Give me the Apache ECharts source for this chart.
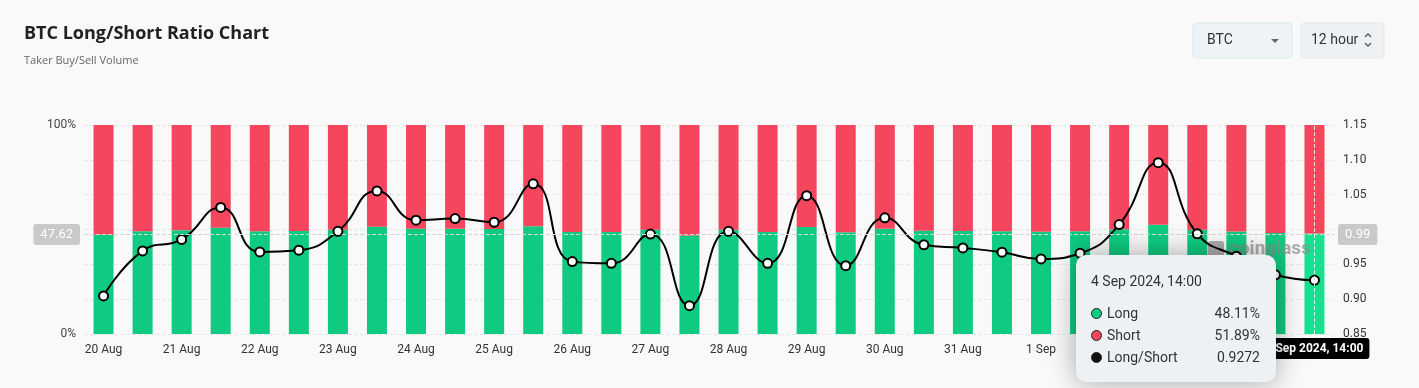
<!DOCTYPE html>
<html>
<head>
<meta charset="utf-8">
<script src="https://cdn.jsdelivr.net/npm/echarts@6/dist/echarts.min.js"></script>
<style>
html,body{margin:0;padding:0;background:#f9f9f9;}
#c{width:1419px;height:388px;}
</style>
</head>
<body>
<div id="c"></div>
<script>
const categories = [
 '20 Aug 2024, 02:00','20 Aug 2024, 14:00','21 Aug 2024, 02:00','21 Aug 2024, 14:00',
 '22 Aug 2024, 02:00','22 Aug 2024, 14:00','23 Aug 2024, 02:00','23 Aug 2024, 14:00',
 '24 Aug 2024, 02:00','24 Aug 2024, 14:00','25 Aug 2024, 02:00','25 Aug 2024, 14:00',
 '26 Aug 2024, 02:00','26 Aug 2024, 14:00','27 Aug 2024, 02:00','27 Aug 2024, 14:00',
 '28 Aug 2024, 02:00','28 Aug 2024, 14:00','29 Aug 2024, 02:00','29 Aug 2024, 14:00',
 '30 Aug 2024, 02:00','30 Aug 2024, 14:00','31 Aug 2024, 02:00','31 Aug 2024, 14:00',
 '1 Sep 2024, 02:00','1 Sep 2024, 14:00','2 Sep 2024, 02:00','2 Sep 2024, 14:00',
 '3 Sep 2024, 02:00','3 Sep 2024, 14:00','4 Sep 2024, 02:00','4 Sep 2024, 14:00'
];
const longPct = [47.49,49.22,49.64,50.78,49.18,49.25,49.93,51.35,50.33,50.39,50.26,51.59,
 48.82,48.75,49.84,47.11,49.93,48.75,51.19,48.67,50.41,49.44,49.33,49.17,48.92,49.14,50.17,52.29,49.85,49.02,48.32,48.11];
const shortPct = [52.51,50.78,50.36,49.22,50.82,50.75,50.07,48.65,49.67,49.61,49.74,48.41,
 51.18,51.25,50.16,52.89,50.07,51.25,48.81,51.33,49.59,50.56,50.67,50.83,51.08,50.86,49.83,47.71,50.15,50.98,51.68,51.89];
const ratio = [0.9046,0.9693,0.9858,1.0316,0.9678,0.9703,0.9974,1.0554,1.0133,1.0157,1.0104,1.0655,
 0.9539,0.9514,0.9935,0.8906,0.9974,0.9514,1.0486,0.9481,1.0167,0.9780,0.9736,0.9674,0.9577,0.9660,1.0070,1.0959,0.9939,0.9616,0.9350,0.9272];
const leftTicks = [0, 100];
const rightTicks = [0.85, 1.15, 0.05];
const hoverIndex = 31;
const hoverPct = 47.62;

const GREEN = '#0ecb81', RED = '#f6465d';
const FONT = 'Roboto, "Noto Sans", sans-serif';

const chart = echarts.init(document.getElementById('c'));
const dot = c => `<span style="display:inline-block;width:9px;height:9px;border-radius:50%;background:${c};border:1.5px solid #222;margin-right:5px;vertical-align:-1px"></span>`;

chart.setOption({
  animation: false,
  backgroundColor: '#f9f9f9',
  textStyle: {fontFamily: FONT},
  title: {
    text: 'BTC Long/Short Ratio Chart',
    subtext: 'Taker Buy/Sell Volume',
    left: 19, top: 20,
    itemGap: 12,
    textStyle: {fontFamily: '"Open Sans", sans-serif', fontSize: 18, fontWeight: 'bold', color: '#222'},
    subtextStyle: {fontFamily: '"Open Sans", sans-serif', fontSize: 11, color: '#666'}
  },
  graphic: [
    {type:'rect', shape:{x:1193,y:23,width:99,height:35,r:4}, style:{fill:'#eef3f6', stroke:'#d9e8ec', lineWidth:1}},
    {type:'text', x:1207, y:40, style:{text:'BTC', fontSize:14, fill:'#333', fontFamily:FONT, verticalAlign:'middle'}},
    {type:'polygon', shape:{points:[[1271,39],[1279,39],[1275,43]]}, style:{fill:'#666'}},
    {type:'rect', shape:{x:1301,y:23,width:83,height:35,r:4}, style:{fill:'#eef1f4', stroke:'#e2e6ea', lineWidth:1}},
    {type:'text', x:1311, y:40, style:{text:'12 hour', fontSize:14, fill:'#333', fontFamily:FONT, verticalAlign:'middle'}},
    {type:'polyline', shape:{points:[[1365,37],[1368,34],[1371,37]]}, style:{stroke:'#555', lineWidth:1.3, fill:null}},
    {type:'polyline', shape:{points:[[1365,43],[1368,46],[1371,43]]}, style:{stroke:'#555', lineWidth:1.3, fill:null}},
    {type:'rect', z:5, shape:{x:1208,y:241,width:16,height:16,r:3}, style:{fill:'rgba(130,130,130,0.65)'}},
    {type:'text', z:5, x:1229, y:249, style:{text:'coinglass', fontSize:19, fontWeight:'bold', fill:'rgba(140,140,140,0.7)', fontFamily:FONT, verticalAlign:'middle'}}
  ],
  grid: {left: 84, right: 85, top: 125, bottom: 54},
  tooltip: {
    trigger: 'axis',
    triggerOn: 'none',
    alwaysShowContent: true,
    backgroundColor: '#eef1f4',
    borderWidth: 0,
    padding: [16, 16, 14, 15],
    extraCssText: 'box-shadow:0 0 28px rgba(0,0,0,0.35);border-radius:10px;width:169px;',
    position: function (point) { return [point[0] - 238, point[1] + 21]; },
    axisPointer: {
      type: 'cross',
      lineStyle: {color: '#d6d6d6', type: 'dashed', width: 1},
      crossStyle: {color: '#d6d6d6', type: 'dashed', width: 1},
      label: {backgroundColor: '#c9c9c9', color: '#fff', fontSize: 13, fontFamily: FONT}
    },
    formatter: function (params) {
      const i = params[0].dataIndex;
      const row = (c, n, v) => `<div style="display:flex;justify-content:space-between;line-height:22px;font-size:14px;color:#333">${'<span>' + dot(c) + n + '</span>'}<span>${v}</span></div>`;
      return `<div style="font-family:${FONT}"><div style="font-size:14px;color:#333;margin-bottom:10px">${categories[i]}</div>` +
        row(GREEN, 'Long', longPct[i].toFixed(2) + '%') +
        row(RED, 'Short', shortPct[i].toFixed(2) + '%') +
        row('#111', 'Long/Short', ratio[i].toFixed(4)) + '</div>';
    }
  },
  xAxis: {
    type: 'category',
    data: categories,
    axisLine: {show: false},
    axisTick: {show: false},
    axisLabel: {interval: 1, color: '#333', fontSize: 12, margin: 10,
      formatter: v => v.split(' 2024')[0]},
    axisPointer: {label: {backgroundColor: '#000', color: '#fff', fontSize: 12, fontWeight: 'bold', padding: [5, 6, 4, 6], margin: 4},
      lineStyle: {color: '#e8e8e8', type: 'dashed'}}
  },
  yAxis: [
    {type: 'value', min: leftTicks[0], max: leftTicks[1], interval: leftTicks[1] - leftTicks[0],
     splitLine: {show: false}, axisLine: {show: false}, axisTick: {show: false},
     axisLabel: {formatter: '{value}%', color: '#444', fontSize: 12, margin: 8},
     axisPointer: {label: {formatter: p => p.value.toFixed(2), padding: [4, 7, 4, 7], margin: 4}}},
    {type: 'value', position: 'right', min: rightTicks[0], max: rightTicks[1], interval: rightTicks[2],
     splitLine: {show: true, lineStyle: {color: '#e6e6e6', type: 'dashed'}},
     axisLine: {show: false}, axisTick: {show: false},
     axisLabel: {formatter: v => v.toFixed(2), color: '#333', fontSize: 12, margin: 9},
     axisPointer: {label: {formatter: p => p.value.toFixed(2), padding: [4, 7, 4, 7], margin: 4}}}
  ],
  series: [
    {name: 'Long', type: 'bar', stack: 'ls', yAxisIndex: 0, data: longPct, barWidth: 20,
     itemStyle: {color: GREEN}, emphasis: {itemStyle: {color: '#17e190'}}},
    {name: 'Short', type: 'bar', stack: 'ls', yAxisIndex: 0, data: shortPct, barWidth: 20,
     itemStyle: {color: RED}, emphasis: {itemStyle: {color: RED}}},
    {name: 'Long/Short', type: 'line', yAxisIndex: 1, data: ratio, smooth: true, z: 10,
     symbol: 'circle', symbolSize: 9,
     lineStyle: {color: '#000', width: 2},
     itemStyle: {color: '#fff', borderColor: '#000', borderWidth: 2},
     emphasis: {scale: false, itemStyle: {color: '#fff', borderColor: '#000', borderWidth: 2}}}
  ]
});

const px = chart.convertToPixel({xAxisIndex: 0}, hoverIndex);
const py = chart.convertToPixel({yAxisIndex: 0}, hoverPct);
chart.dispatchAction({type: 'showTip', x: px, y: py});
</script>
</body>
</html>
